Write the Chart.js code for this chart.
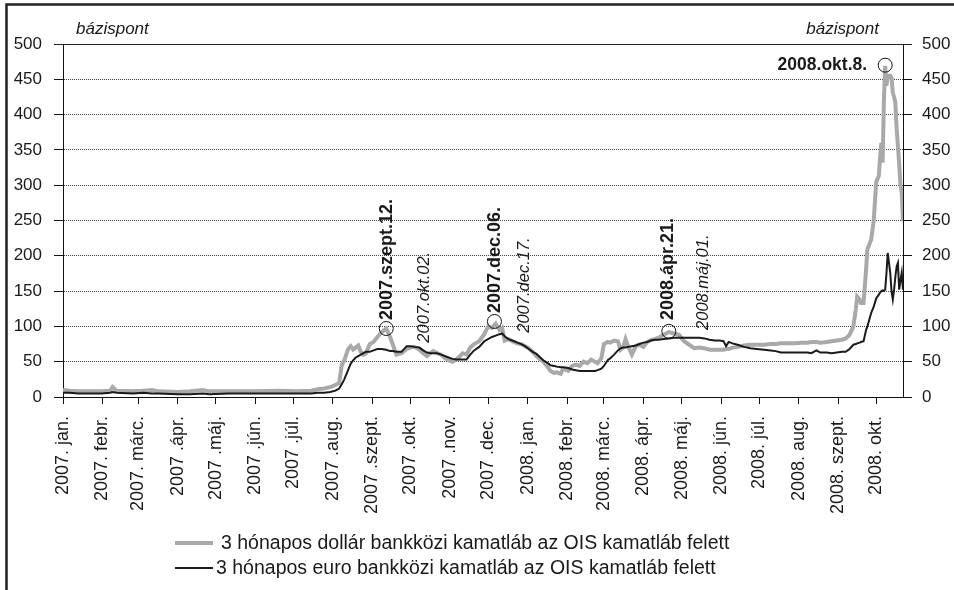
<!DOCTYPE html>
<html>
<head>
<meta charset="utf-8">
<script src="https://cdn.jsdelivr.net/npm/chart.js@4/dist/chart.umd.min.js"></script>
<style>
  html, body { margin: 0; padding: 0; background: #ffffff; }
  #wrap { width: 954px; height: 590px; position: relative; }
</style>
</head>
<body>
<div id="wrap"><canvas id="c" width="954" height="590"></canvas></div>
<script>
// x values: days since 2007-01-01
const days = [0,5,12,20,30,37,39,42,55,63,70,75,90,100,110,115,130,150,170,185,195,200,205,210,214,217,219,221,224,226,228,230,232,234,236,238,241,244,247,250,254,257,259,262,266,270,273,276,280,283,286,289,291,294,297,300,303,306,309,312,314,317,320,323,327,331,334,337,340,343,345,347,350,353,357,360,363,366,369,372,375,378,381,383,386,388,391,393,397,400,403,406,409,412,415,418,420,423,425,428,430,433,436,438,440,442,444,447,450,453,456,459,462,465,468,472,476,480,484,488,492,496,500,504,508,512,516,519,521,523,526,530,535,540,545,551,556,560,564,570,575,580,585,588,592,595,600,604,608,612,615,618,621,623,624,626,627,629,631,632,635,637,639,641,642,643,644,645,646,647,648,649,650,651,652,653,654,655,656,657,658,659,660];

// 3 hónapos dollár bankközi kamatláb az OIS kamatláb felett (bázispont)
const dollarSpread = [10,9,8,8,8,9,14,9,8,9,10,8,7,8,10,8,8,8,9,8,9,11,12,14,17,20,45,52,68,72,67,70,73,64,60,62,75,78,85,91,97,85,75,60,62,68,70,71,67,62,58,63,65,62,60,55,52,50,53,58,62,60,70,75,79,89,100,98,104,95,98,80,82,79,76,75,72,69,64,58,53,49,42,37,34,35,33,40,37,44,46,44,50,48,53,50,48,55,75,78,77,80,79,67,70,82,72,60,72,74,71,78,81,82,84,88,92,90,88,79,74,69,70,69,67,67,67,67,68,68,70,71,73,74,74,74,75,75,76,76,76,77,77,78,78,77,78,79,80,81,83,88,100,125,142,138,133,133,180,209,223,250,305,313,340,360,332,420,469,441,455,455,455,452,431,425,417,380,356,330,300,290,249];

// 3 hónapos euro bankközi kamatláb az OIS kamatláb felett (bázispont)
const euroSpread = [6,6,5,5,5,6,7,6,5,6,5,5,4,4,5,4,5,5,5,5,5,6,6,7,9,12,18,25,38,47,52,56,58,60,62,64,64,66,68,68,67,65,65,64,64,72,72,71,70,66,63,62,62,62,60,58,56,54,53,53,53,53,60,66,71,79,82,85,87,89,90,86,82,80,77,75,72,68,64,61,56,51,48,45,44,43,42,42,41,39,38,37,37,37,37,37,38,40,44,52,55,60,66,69,70,70,71,72,73,75,77,78,80,81,81,82,83,84,84,84,84,84,84,83,81,80,80,79,72,78,76,74,71,69,68,67,66,65,63,63,63,63,63,62,66,63,63,62,63,64,64,68,74,75,76,77,78,79,95,100,119,128,140,145,148,150,151,150,152,175,204,190,175,150,138,152,170,185,190,152,165,176,152];

// month ticks
const monthStarts = [0,31,59,90,120,151,181,212,243,273,304,334,365,396,425,456,486,517,547,578,609,639];
const monthLabels = ['2007. jan.','2007. febr.','2007. márc.','2007 .ápr.','2007 .máj.','2007 .jún.','2007 .júl.','2007 .aug.','2007 .szept.','2007 .okt.','2007 .nov.','2007 .dec.','2008. jan.','2008. febr.','2008. márc.','2008. ápr.','2008. máj.','2008. jún.','2008. júl.','2008. aug.','2008. szept.','2008. okt.'];

// highlighted points (circles)
const markerDays = [254, 339, 476, 646];
const markerValues = [97, 107, 93, 470];

// annotations (anchor: day, value at start of text)
const noteTexts = ['2007.szept.12.','2007.okt.02.','2007.dec.06.','2007.dec.17.','2008.ápr.21.','2008.máj.01.'];
const noteDays = [254.5, 284, 339.2, 362.6, 475.4, 503.3];
const noteValues = [109, 77, 119, 91, 109, 95];
const noteBold = [true, false, true, false, true, false];
const peakText = '2008.okt.8.';
const peakDay = 631.8;
const peakValue = 463.5;

const unitLabel = 'bázispont';
const seriesNames = ['3 hónapos dollár bankközi kamatláb az OIS kamatláb felett','3 hónapos euro bankközi kamatláb az OIS kamatláb felett'];

const FONT = "'Liberation Sans', Arial, sans-serif";
const TXT = '#1a1a1a';
const GRAY = '#a9a9a9';
const BLACK = '#1a1a1a';

const dollarPts = days.map((d, i) => ({x: d, y: dollarSpread[i]}));
const euroPts = days.map((d, i) => ({x: d, y: euroSpread[i]}));
const markerPts = markerDays.map((d, i) => ({x: d, y: markerValues[i]}));

const decorPlugin = {
  id: 'decor',
  afterDatasetsDraw(chart) {
    const ctx = chart.ctx;
    const xs = chart.scales.x, ys = chart.scales.y;
    const ca = chart.chartArea;
    ctx.save();
    // top line of plot area
    ctx.strokeStyle = '#222';
    ctx.lineWidth = 1;
    ctx.beginPath();
    ctx.moveTo(ca.left - 9, Math.round(ca.top) + 0.5);
    ctx.lineTo(ca.right + 9, Math.round(ca.top) + 0.5);
    ctx.stroke();
    // rotated annotations
    ctx.fillStyle = TXT;
    ctx.textBaseline = 'middle';
    ctx.textAlign = 'left';
    noteTexts.forEach((t, i) => {
      const px = xs.getPixelForValue(noteDays[i]);
      const py = ys.getPixelForValue(noteValues[i]);
      ctx.save();
      ctx.translate(px, py);
      ctx.rotate(-Math.PI / 2);
      ctx.font = noteBold[i] ? 'bold 18px ' + FONT : 'italic 16.5px ' + FONT;
      ctx.fillText(t, 0, 0);
      ctx.restore();
    });
    // peak label
    ctx.font = 'bold 17.5px ' + FONT;
    ctx.textAlign = 'right';
    ctx.textBaseline = 'alphabetic';
    ctx.fillText(peakText, xs.getPixelForValue(peakDay), ys.getPixelForValue(peakValue));
    ctx.restore();
  },
  afterDraw(chart) {
    const ctx = chart.ctx;
    ctx.save();
    // frame
    ctx.strokeStyle = '#222';
    ctx.lineWidth = 2.5;
    ctx.beginPath();
    ctx.moveTo(6.5, 590);
    ctx.lineTo(6.5, 4.5);
    ctx.lineTo(954, 4.5);
    ctx.stroke();
    // unit labels
    ctx.fillStyle = TXT;
    ctx.font = 'italic 17px ' + FONT;
    ctx.textBaseline = 'alphabetic';
    ctx.textAlign = 'left';
    ctx.fillText(unitLabel, 76, 34);
    ctx.textAlign = 'right';
    ctx.fillText(unitLabel, 879, 34);
    // legend
    const ds = chart.data.datasets;
    const rows = [{ds: ds[0], y: 543, tx: 221}, {ds: ds[1], y: 568, tx: 216}];
    ctx.font = '19.5px ' + FONT;
    ctx.textAlign = 'left';
    ctx.textBaseline = 'middle';
    rows.forEach(r => {
      ctx.strokeStyle = r.ds.borderColor;
      ctx.lineWidth = r.ds.borderWidth;
      ctx.beginPath();
      ctx.moveTo(175, r.y);
      ctx.lineTo(213, r.y);
      ctx.stroke();
      ctx.fillStyle = TXT;
      ctx.fillText(r.ds.label, r.tx, r.y + 1);
    });
    ctx.restore();
  }
};

new Chart(document.getElementById('c'), {
  type: 'line',
  data: {
    datasets: [
      {
        label: seriesNames[0],
        data: dollarPts,
        borderColor: GRAY,
        borderWidth: 4,
        pointRadius: 0,
        tension: 0,
        order: 3
      },
      {
        label: seriesNames[1],
        data: euroPts,
        borderColor: BLACK,
        borderWidth: 2,
        pointRadius: 0,
        tension: 0,
        order: 2
      },
      {
        label: 'markers',
        data: markerPts,
        showLine: false,
        pointRadius: 7,
        pointHoverRadius: 7,
        pointBorderWidth: 1,
        pointBorderColor: '#111',
        pointBackgroundColor: 'rgba(255,255,255,0)',
        order: 1
      }
    ]
  },
  options: {
    responsive: false,
    animation: false,
    devicePixelRatio: 1,
    layout: { padding: { left: 0, right: 0, top: 44, bottom: 63 } },
    plugins: {
      legend: { display: false },
      tooltip: { enabled: false }
    },
    scales: {
      x: {
        type: 'linear',
        min: 0,
        max: 660,
        afterBuildTicks(scale) {
          scale.ticks = monthStarts.map(v => ({ value: v }));
        },
        afterFit(scale) { scale.height = 130; },
        grid: {
          drawOnChartArea: false,
          drawTicks: true,
          tickLength: 7,
          tickColor: '#111',
          tickWidth: 1
        },
        border: { display: true, color: '#111', width: 1 },
        ticks: {
          autoSkip: false,
          maxRotation: 90,
          minRotation: 90,
          padding: 12,
          color: TXT,
          font: { family: FONT, size: 18 },
          callback: (v, i) => monthLabels[i]
        }
      },
      y: {
        position: 'left',
        min: 0,
        max: 500,
        afterFit(scale) { scale.width = 63; },
        grid: {
          color: '#444',
          lineWidth: 1,
          drawTicks: true,
          tickLength: 9,
          tickColor: '#111',
          tickBorderDash: [],
          tickWidth: 1
        },
        border: { display: true, color: '#111', width: 1, dash: [1, 1] },
        ticks: {
          stepSize: 50,
          padding: 12,
          color: TXT,
          font: { family: FONT, size: 17 }
        }
      },
      y2: {
        position: 'right',
        min: 0,
        max: 500,
        afterFit(scale) { scale.width = 51; },
        grid: {
          drawOnChartArea: false,
          drawTicks: true,
          tickLength: 9,
          tickColor: '#111',
          tickWidth: 1
        },
        border: { display: true, color: '#111', width: 1 },
        ticks: {
          stepSize: 50,
          padding: 10,
          color: TXT,
          font: { family: FONT, size: 17 }
        }
      }
    }
  },
  plugins: [decorPlugin]
});
</script>
</body>
</html>
